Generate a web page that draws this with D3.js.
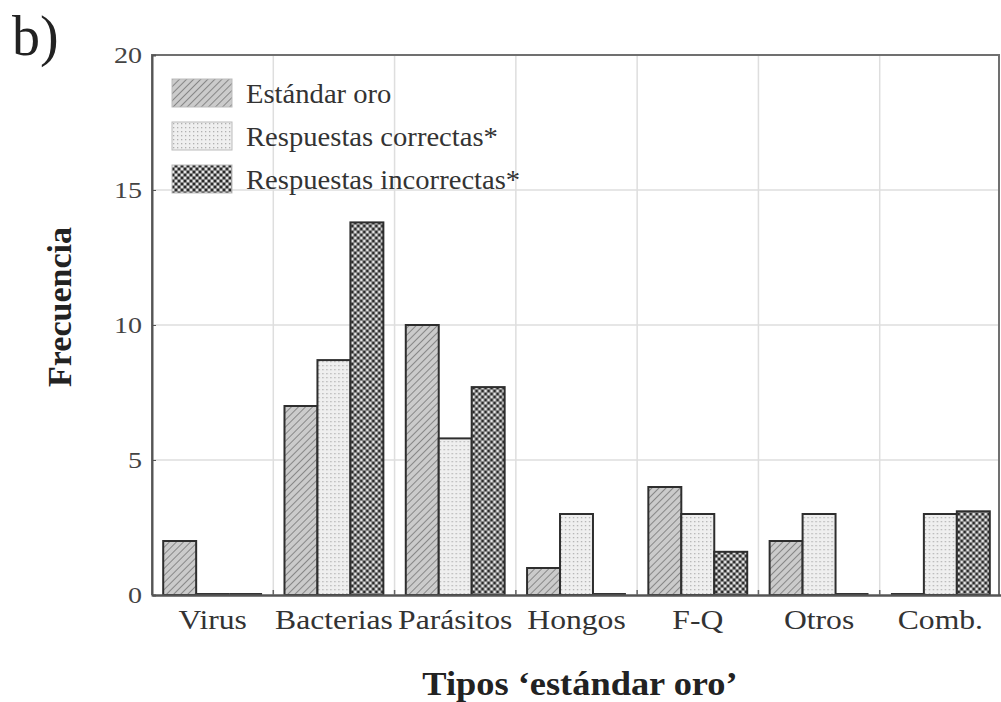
<!DOCTYPE html>
<html>
<head>
<meta charset="utf-8">
<script src="https://cdn.jsdelivr.net/npm/d3@7"></script>
<style>
  html, body { margin: 0; padding: 0; background: #fff; }
  svg { display: block; font-family: "Liberation Serif", "Times New Roman", serif; }
</style>
</head>
<body>
<svg id="chart" width="1001" height="702"></svg>
<script>
// Frequencies by gold-standard type
const categories = ["Virus", "Bacterias", "Parásitos", "Hongos", "F-Q", "Otros", "Comb."];
const seriesNames = ["Estándar oro", "Respuestas correctas*", "Respuestas incorrectas*"];
const estandarOro = [2, 7, 10, 1, 4, 2, 0];
const correctas = [0, 8.7, 5.8, 3, 3, 3, 3];
const incorrectas = [0, 13.8, 7.7, 0, 1.6, 0, 3.1];
const yTicks = [0, 5, 10, 15, 20];

const seriesValues = [estandarOro, correctas, incorrectas];
const patternIds = ["pat-hatch", "pat-dots", "pat-check"];

const svg = d3.select("#chart");
const plotLeft = 152, plotRight = 999, plotTop = 55, plotBottom = 595;

// Widen a text run horizontally (the typeface is set a little wide)
function widen(sel, k) {
  sel.each(function () {
    const w = this.getComputedTextLength();
    d3.select(this).attr("textLength", w * k).attr("lengthAdjust", "spacingAndGlyphs");
  });
}

const defs = svg.append("defs");

// Diagonal hatching
const hatch = defs.append("pattern")
  .attr("id", "pat-hatch").attr("patternUnits", "userSpaceOnUse")
  .attr("width", 5).attr("height", 5)
  .attr("patternTransform", "rotate(45)");
hatch.append("rect").attr("width", 5).attr("height", 5).attr("fill", "#cbcbcb");
hatch.append("line").attr("x1", 0).attr("y1", 0).attr("x2", 0).attr("y2", 5)
  .attr("stroke", "#707070").attr("stroke-width", 1.5);

// Fine dotted grid
const dots = defs.append("pattern")
  .attr("id", "pat-dots").attr("patternUnits", "userSpaceOnUse")
  .attr("width", 4).attr("height", 4);
dots.append("rect").attr("width", 4).attr("height", 4).attr("fill", "#efefef");
dots.append("rect").attr("x", 1).attr("y", 1).attr("width", 1.3).attr("height", 1.3).attr("fill", "#b0b0b0");

// Checker dots
const check = defs.append("pattern")
  .attr("id", "pat-check").attr("patternUnits", "userSpaceOnUse")
  .attr("width", 6).attr("height", 6);
check.append("rect").attr("width", 6).attr("height", 6).attr("fill", "#858585");
check.append("rect").attr("x", 0).attr("y", 0).attr("width", 2).attr("height", 2).attr("fill", "#e4e4e4");
check.append("rect").attr("x", 3).attr("y", 3).attr("width", 2).attr("height", 2).attr("fill", "#e4e4e4");
check.append("rect").attr("x", 3).attr("y", 0).attr("width", 2).attr("height", 2).attr("fill", "#2a2a2a");
check.append("rect").attr("x", 0).attr("y", 3).attr("width", 2).attr("height", 2).attr("fill", "#2a2a2a");

const x = d3.scaleBand().domain(categories).range([plotLeft, 1001]).paddingInner(0).paddingOuter(0);
const xSub = d3.scaleBand().domain(d3.range(seriesNames.length))
  .range([0, x.bandwidth()]).paddingInner(0).paddingOuter(0.34);
const y = d3.scaleLinear().domain([0, 20]).range([plotBottom, plotTop]);

// Grid
const grid = svg.append("g").attr("stroke", "#dedede").attr("stroke-width", 1.5);
grid.selectAll("line.h").data(yTicks.filter(t => t > 0 && t < 20)).join("line")
  .attr("x1", plotLeft).attr("x2", plotRight).attr("y1", d => y(d)).attr("y2", d => y(d));
grid.selectAll("line.v").data(categories.slice(1)).join("line")
  .attr("x1", d => x(d)).attr("x2", d => x(d)).attr("y1", plotTop).attr("y2", plotBottom);

// Bars
const groups = svg.append("g").selectAll("g").data(categories).join("g")
  .attr("transform", d => `translate(${x(d)},0)`);
const barData = (c, i) => seriesValues.map((vals, s) => ({ s, v: vals[i] }));
groups.selectAll("rect")
  .data(barData)
  .join("rect")
  .attr("x", d => xSub(d.s))
  .attr("width", xSub.bandwidth())
  .attr("y", d => y(d.v))
  .attr("height", d => y(0) - y(d.v))
  .attr("fill", d => `url(#${patternIds[d.s]})`)
  .attr("stroke", "#2e2e2e").attr("stroke-width", 2);
// Empty bars still show their outline as a flat line on the baseline
groups.selectAll("line.zero")
  .data((c, i) => barData(c, i).filter(d => d.v === 0))
  .join("line").attr("class", "zero")
  .attr("x1", d => xSub(d.s)).attr("x2", d => xSub(d.s) + xSub.bandwidth())
  .attr("y1", y(0) - 1).attr("y2", y(0) - 1)
  .attr("stroke", "#333").attr("stroke-width", 2);

// Frame
svg.append("path")
  .attr("d", `M${plotLeft},${plotBottom}V${plotTop}H${plotRight}V${plotBottom}`)
  .attr("fill", "none").attr("stroke", "#707070").attr("stroke-width", 2);

// Y axis
const yAxis = svg.append("g").attr("transform", `translate(${plotLeft},0)`)
  .call(d3.axisLeft(y).tickValues(yTicks).tickSize(-4).tickPadding(10));
yAxis.select(".domain").attr("stroke", "#555").attr("stroke-width", 2);
yAxis.selectAll(".tick line").attr("stroke", "#555");
yAxis.selectAll(".tick text")
  .attr("font-family", "Liberation Serif").attr("font-size", 23).attr("fill", "#444")
  .call(widen, 1.22);

// X axis
const xAxis = svg.append("g").attr("transform", `translate(0,${plotBottom})`)
  .call(d3.axisBottom(x).tickSize(0).tickPadding(14));
xAxis.select(".domain").attr("stroke", "#555").attr("stroke-width", 2.5);
xAxis.selectAll(".tick text")
  .attr("font-family", "Liberation Serif").attr("font-size", 28).attr("fill", "#333")
  .call(widen, 1.13);
svg.append("g").selectAll("line").data(categories.slice(1)).join("line")
  .attr("x1", d => x(d)).attr("x2", d => x(d)).attr("y1", plotBottom).attr("y2", plotBottom - 5)
  .attr("stroke", "#666").attr("stroke-width", 1.5);

// Axis titles
svg.append("text")
  .attr("x", 580).attr("y", 695).attr("text-anchor", "middle")
  .attr("font-size", 34).attr("font-weight", "bold").attr("fill", "#222")
  .text("Tipos ‘estándar oro’")
  .call(widen, 1.07);
svg.append("text")
  .attr("transform", "translate(71,307) rotate(-90)").attr("text-anchor", "middle")
  .attr("font-size", 34).attr("font-weight", "bold").attr("fill", "#222")
  .text("Frecuencia");

// Panel letter
svg.append("text").attr("x", 12).attr("y", 55)
  .attr("font-size", 56).attr("fill", "#222").text("b)");

// Legend
const legend = svg.append("g").attr("transform", "translate(172,79)");
const li = legend.selectAll("g").data(seriesNames).join("g")
  .attr("transform", (d, i) => `translate(0,${i * 43})`);
li.append("rect").attr("width", 60).attr("height", 28)
  .attr("fill", (d, i) => `url(#${patternIds[i]})`)
  .attr("stroke", "#bbb").attr("stroke-width", 1);
li.append("text").attr("x", 74).attr("y", 24)
  .attr("font-size", 27).attr("fill", "#333").text(d => d)
  .call(widen, 1.06);
</script>
</body>
</html>
